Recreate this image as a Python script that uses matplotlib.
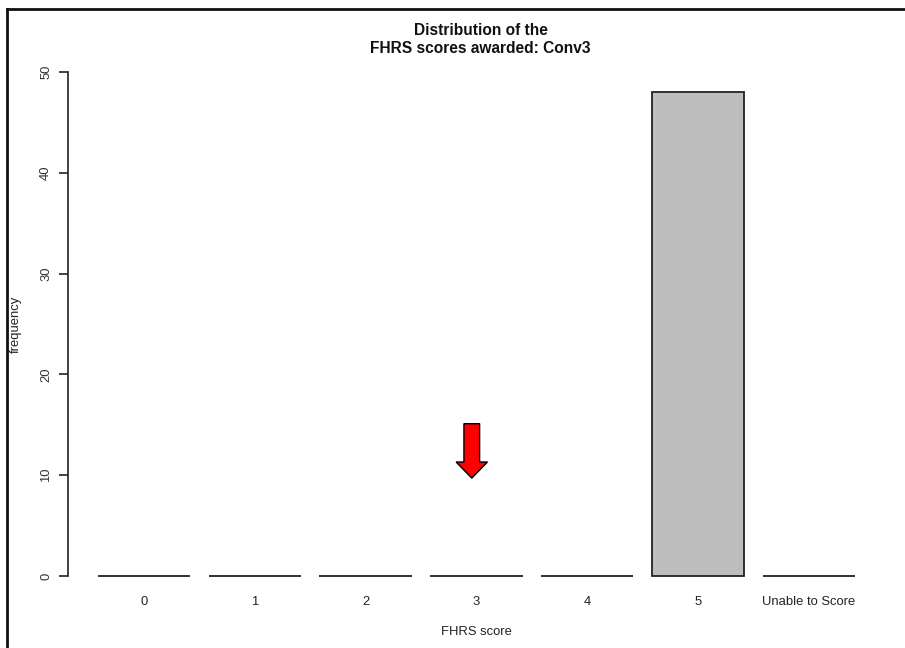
import matplotlib
matplotlib.use("Agg")
import matplotlib.pyplot as plt
from matplotlib.lines import Line2D
from matplotlib.patches import FancyArrow

categories = ["0", "1", "2", "3", "4", "5", "Unable to Score"]
counts = [0, 0, 0, 0, 0, 48, 0]
yticks = [0, 10, 20, 30, 40, 50]
arrow_x = 3          # category index the arrow points at
arrow_top = 15.1
arrow_tip = 9.7

plt.rcParams['font.family'] = ['Liberation Sans', 'DejaVu Sans']

fig = plt.figure(figsize=(9.05, 6.48), dpi=100)
ax = fig.add_axes([0.0748, 0.0802, 0.9032, 0.8398])

width = 1.0
space = 0.2
lefts = [space + i * (width + space) for i in range(len(categories))]
centers = [l + width / 2 for l in lefts]

ax.bar(centers, counts, width=width, color="#BEBEBE", edgecolor="#222222",
       linewidth=1.3)

xr = lefts[-1] + width - lefts[0]
ax.set_xlim(lefts[0] - 0.04 * xr, lefts[-1] + width + 0.04 * xr)
ax.set_ylim(-2, 52)

for s in ["top", "right", "bottom"]:
    ax.spines[s].set_visible(False)
ax.spines["left"].set_bounds(0, 50)
ax.spines["left"].set_linewidth(1.2)
ax.spines["left"].set_color("#222222")

ax.set_yticks(yticks)
ax.set_yticklabels([str(v) for v in yticks], rotation=90, va="center",
                   fontsize=9.4, color="#333333")
ax.tick_params(axis="y", length=6.5, width=1.2, color="#222222", pad=4.7)

ax.set_xticks(centers)
ax.set_xticklabels(categories, fontsize=9.4, color="#222222")
ax.tick_params(axis="x", length=0, pad=0)

ax.set_xlabel("FHRS score", fontsize=9.4, color="#222222", va="center")
ax.xaxis.set_label_coords(0.5, -0.066)
ax.set_ylabel("frequency", fontsize=9.4, color="#222222", va="center")
ax.yaxis.set_label_coords(-0.0635, 0.5)

fig.text(0.531, 0.953, "Distribution of the", ha="center", va="center",
         fontsize=11.2, fontweight="bold", color="#111111")
fig.text(0.531, 0.925, "FHRS scores awarded: Conv3", ha="center", va="center",
         fontsize=11.2, fontweight="bold", color="#111111")

# red arrow overlay
cx = centers[arrow_x] - 0.05
shaft_w = 0.17
head_w = 0.34
head_len = 1.6
ax.add_patch(FancyArrow(cx, arrow_top, 0, -(arrow_top - arrow_tip),
                        width=shaft_w, head_width=head_w, head_length=head_len,
                        length_includes_head=True, facecolor="#FF0000",
                        edgecolor="#000000", linewidth=1.0, zorder=5))

# screenshot border (top and left)
fig.add_artist(Line2D([0.0077, 1.0], [0.986, 0.986], transform=fig.transFigure,
                      color="#111111", linewidth=2.0))
fig.add_artist(Line2D([0.0077, 0.0077], [0.0, 0.986], transform=fig.transFigure,
                      color="#111111", linewidth=2.0))

fig.savefig("out.png", dpi=100)
